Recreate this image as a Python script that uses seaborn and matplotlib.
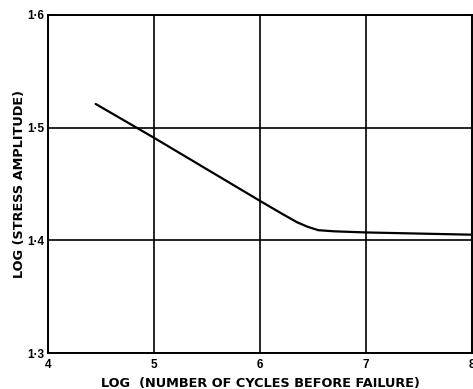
import numpy as np
import pandas as pd
import matplotlib
matplotlib.use('Agg')
import matplotlib.pyplot as plt
import seaborn as sns

# values (log cycles vs log stress amplitude)
log_cycles = [4.45, 5.0, 5.5, 6.0, 6.2, 6.35, 6.45, 6.55, 6.7, 7.0, 7.5, 8.0]
log_stress = [1.521, 1.491, 1.463, 1.435, 1.424, 1.416, 1.412, 1.409, 1.408, 1.407, 1.406, 1.405]

x_ticks = [4, 5, 6, 7, 8]
y_ticks = [1.3, 1.4, 1.5, 1.6]
y_tick_labels = ['1·3', '1·4', '1·5', '1·6']

df = pd.DataFrame({'cycles': log_cycles, 'stress': log_stress})

sns.set_style('white')
plt.rcParams['font.family'] = ['DejaVu Sans']
plt.rcParams['text.color'] = 'black'
plt.rcParams['axes.labelcolor'] = 'black'
plt.rcParams['xtick.color'] = 'black'
plt.rcParams['ytick.color'] = 'black'

fig = plt.figure(figsize=(4.73, 3.89), dpi=100)
ax = fig.add_axes([0.1015, 0.0925, 0.8965, 0.869])

sns.lineplot(data=df, x='cycles', y='stress', color='black', linewidth=1.6, ax=ax)

ax.set_xlim(4, 8)
ax.set_ylim(1.3, 1.6)
ax.set_xticks(x_ticks)
ax.set_yticks(y_ticks)
ax.set_yticklabels(y_tick_labels)
ax.tick_params(length=0, pad=2.5, labelsize=8.5)
ax.tick_params(axis='x', pad=4)
for lab in ax.get_xticklabels() + ax.get_yticklabels():
    lab.set_fontweight('bold')
    lab.set_fontfamily('Liberation Sans')

ax.grid(True, color='black', linewidth=1.2)
for s in ax.spines.values():
    s.set_color('black')
    s.set_linewidth(1.4)

ax.set_xlabel('LOG  (NUMBER OF CYCLES BEFORE FAILURE)', fontsize=9.3, fontweight='bold')
ax.set_ylabel('LOG (STRESS AMPLITUDE)', fontsize=9.3, fontweight='bold')
ax.xaxis.set_label_coords(0.5, -0.071)
ax.yaxis.set_label_coords(-0.052, 0.5)

fig.savefig('out.png', dpi=100)
